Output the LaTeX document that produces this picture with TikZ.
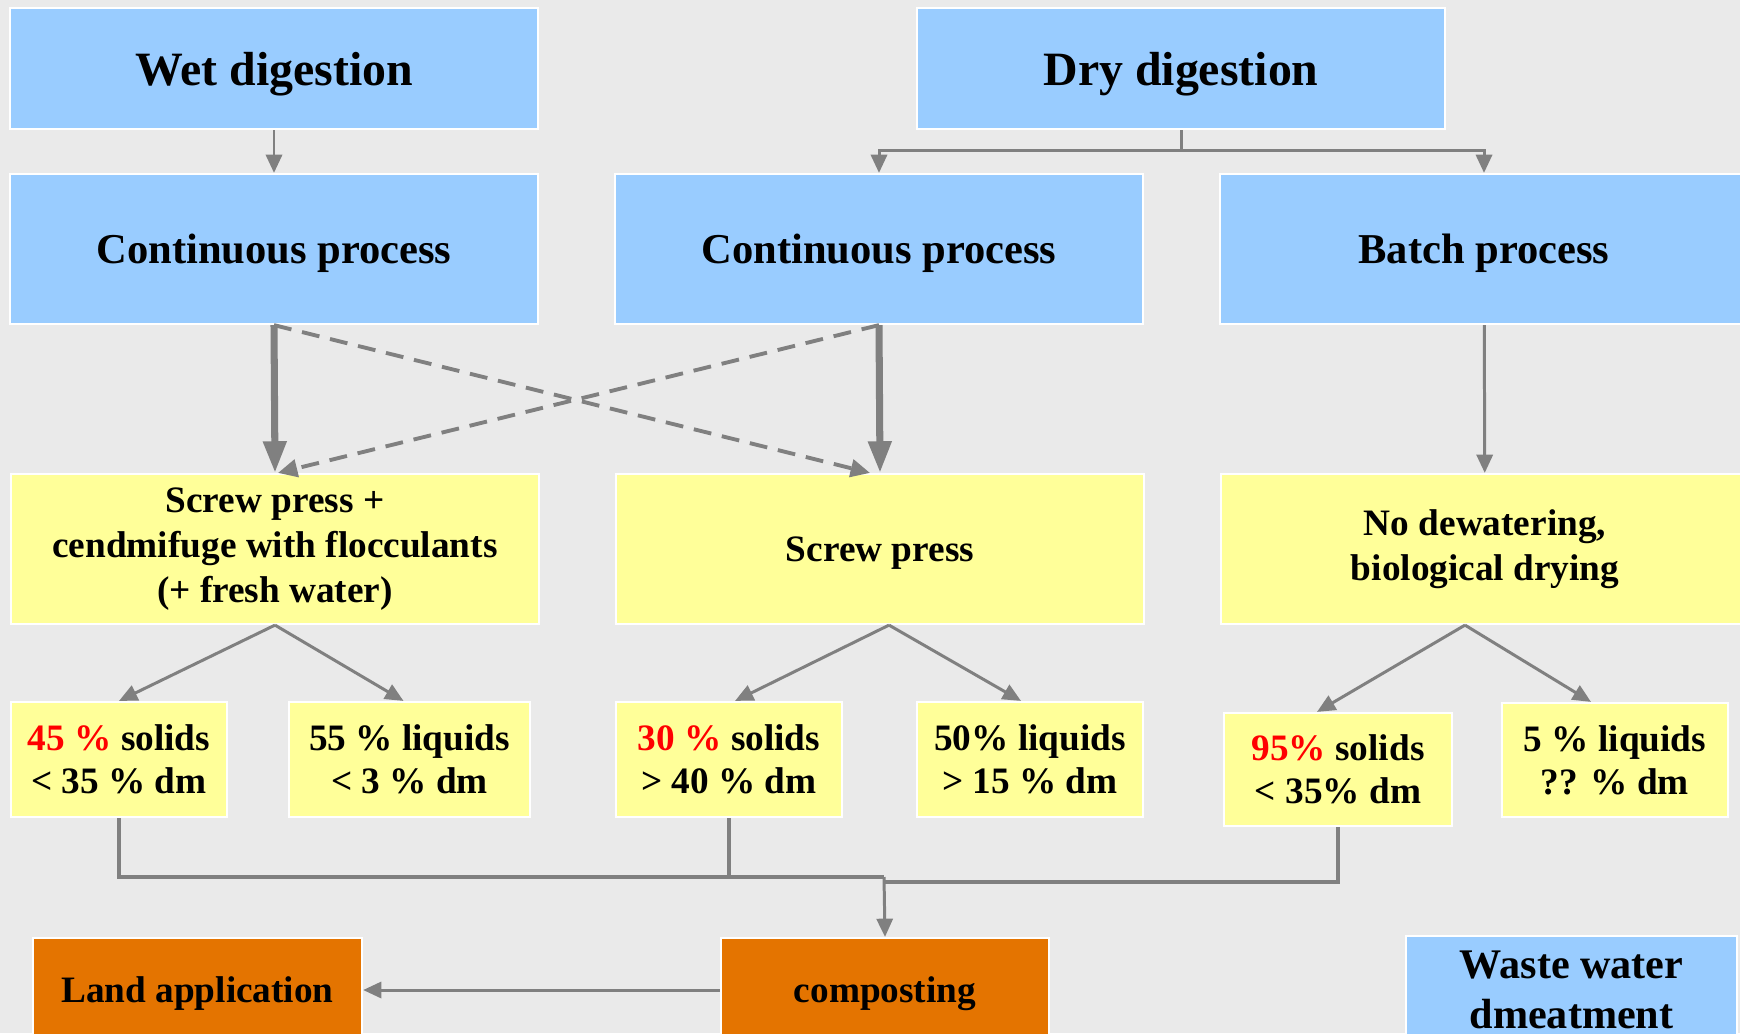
\documentclass[tikz,border=0pt]{standalone}
\usepackage{fontspec}
\setmainfont{Liberation Serif}
\usetikzlibrary{arrows.meta}

\definecolor{skyblue}{HTML}{99CCFF}
\definecolor{paleyellow}{HTML}{FFFF99}
\definecolor{deeporange}{HTML}{E47400}
\definecolor{bggray}{HTML}{EAEAEA}
\definecolor{linegray}{HTML}{808080}

\begin{document}
\begin{tikzpicture}[x=0.01cm, y=-0.01cm,
    box/.style={draw=white, line width=0.6pt, inner sep=0pt, align=center},
    digestion/.style={box, fill=skyblue, minimum width=5.28cm, minimum height=1.21cm,
        text depth=0pt, font=\fontsize{13.6}{16}\selectfont\bfseries},
    process/.style={box, fill=skyblue, minimum width=5.28cm, minimum height=1.50cm,
        text depth=0pt, font=\fontsize{12.1}{14}\selectfont\bfseries},
    dewater/.style={box, fill=paleyellow, minimum width=5.28cm, minimum height=1.50cm,
        font=\fontsize{10.6}{12.7}\selectfont\bfseries},
    fraction/.style={box, fill=paleyellow, minimum height=1.15cm,
        font=\fontsize{10.6}{12.2}\selectfont\bfseries},
    outlet/.style={box, fill=deeporange, minimum height=1.04cm, text depth=0pt,
        font=\fontsize{10.6}{12}\selectfont\bfseries},
    wire/.style={color=linegray, line width=0.85pt},
    link/.style={wire, -{Triangle[length=5.2pt,width=4.6pt]}},
    mainlink/.style={color=linegray, line width=2pt, -{Triangle[length=9pt,width=6.3pt]}},
    altlink/.style={color=linegray, line width=1.1pt, dash pattern=on 5.1pt off 3.1pt,
        -{Triangle[length=5.5pt,width=5pt]}}]

    \fill[bggray] (0,0) rectangle (1740,1033);
    \useasboundingbox (0,0) rectangle (1740,1033);
    \clip (0,0) rectangle (1740,1033);

    % top row
    \node[digestion] (wet) at (274,68.5) {Wet digestion};
    \node[digestion] (dry) at (1181,68.5) {Dry digestion};

    % process type
    \node[process] (wetcont) at (274,249) {Continuous process};
    \node[process] (drycont) at (879,249) {Continuous process};
    \node[process] (batch) at (1484,249) {Batch process};

    % dewatering
    \node[dewater] (press1) at (275,549) {Screw press +\\cendmifuge with flocculants\\(+ fresh water)};
    \node[dewater, text depth=0pt] (press2) at (880,549) {Screw press};
    \node[dewater] (nodry) at (1485,549) {No dewatering,\\biological drying};

    % fractions
    \node[fraction, minimum width=2.16cm] (solid1) at (119,759.5) {{\color{red}45 \%} solids\\< 35 \% dm};
    \node[fraction, minimum width=2.40cm] (liquid1) at (409.5,759.5) {55 \% liquids\\< 3 \% dm};
    \node[fraction, minimum width=2.26cm] (solid2) at (729,759.5) {{\color{red}30 \%} solids\\> 40 \% dm};
    \node[fraction, minimum width=2.26cm] (liquid2) at (1030,759.5) {50\% liquids\\> 15 \% dm};
    \node[fraction, minimum width=2.28cm, minimum height=1.13cm] (solid3) at (1338,769.5) {{\color{red}95\%} solids\\< 35\% dm};
    \node[fraction, minimum width=2.26cm, minimum height=1.14cm] (liquid3) at (1615,760) {5 \% liquids\\?? \% dm};

    % end use
    \node[outlet, minimum width=3.29cm] (land) at (197.5,990) {Land application};
    \node[outlet, minimum width=3.28cm] (compost) at (885,990) {composting};
    \node[box, fill=skyblue, minimum width=3.31cm, minimum height=1.08cm,
        font=\fontsize{12}{14.2}\selectfont\bfseries] (waste) at (1571.5,990) {Waste water\\dmeatment};

    \coordinate (dryfork) at (1181,150);
    \coordinate (mergeleft) at (884,877);
    \coordinate (mergeright) at (884,882);

    \path [link] (wet) edge (wetcont);
    \draw [wire] (dry.south) -- (dryfork);
    \draw [link] (dryfork) -| (drycont.north);
    \draw [link] (dryfork) -| (batch.north);

    \path [mainlink] (wetcont.south) edge (press1.north);
    \path [mainlink] (drycont.south) edge (press2.north);
    \path [altlink] (wetcont.south) edge ([xshift=-0.1cm]press2.north);
    \path [altlink] (drycont.south) edge ([xshift=0.03cm]press1.north);
    \path [link] (batch) edge (nodry);

    \path [link] (press1.south) edge (solid1.north);
    \path [link] (press1.south) edge ([xshift=-0.06cm]liquid1.north);
    \path [link] ([xshift=0.09cm]press2.south) edge ([xshift=0.06cm]solid2.north);
    \path [link] ([xshift=0.09cm]press2.south) edge ([xshift=-0.09cm]liquid2.north);
    \path [link] ([xshift=-0.2cm]nodry.south) edge ([xshift=-0.21cm]solid3.north);
    \path [link] ([xshift=-0.2cm]nodry.south) edge ([xshift=-0.24cm]liquid3.north);

    \draw [wire, line width=1pt] (solid1.south) |- (mergeleft);
    \draw [wire, line width=1pt] (solid2.south) -- (solid2.south |- mergeleft);
    \draw [wire, line width=1pt] (solid3.south) |- (mergeright);
    \path [link] (mergeleft) edge (compost.north);
    \path [link] (compost) edge (land);

\end{tikzpicture}
\end{document}
